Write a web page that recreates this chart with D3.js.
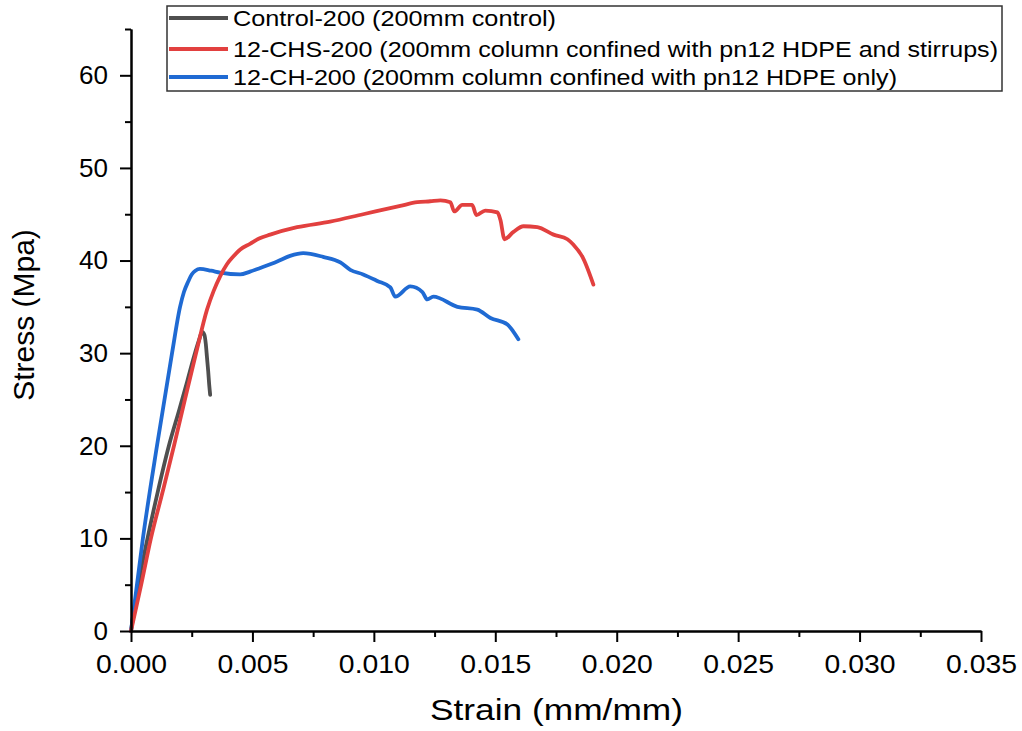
<!DOCTYPE html>
<html>
<head>
<meta charset="utf-8">
<script src="https://cdn.jsdelivr.net/npm/d3@7"></script>
<style>
  html, body { margin: 0; padding: 0; background: #fff; }
  svg { display: block; font-family: "Liberation Sans", Arial, sans-serif; }
</style>
</head>
<body>
<svg id="chart" width="1022" height="731"></svg>
<script>
// Stress–strain curves of 200 mm columns (strain in mm/mm, stress in MPa)
const controlStrain = [0, 0.0003, 0.00068, 0.0011, 0.00156, 0.002, 0.00232, 0.00258, 0.0028, 0.00293, 0.00302, 0.00308, 0.00313, 0.00318, 0.00322, 0.00326];
const controlStress = [0, 5, 10, 15, 20, 24, 27, 29.5, 31.4, 32.3, 32.0, 31.0, 29.5, 28.0, 26.6, 25.5];

const chsStrain = [0, 0.00042, 0.00082, 0.0013, 0.00177, 0.00222, 0.00268, 0.00313, 0.0034, 0.00367, 0.00395, 0.0042, 0.0045, 0.0049, 0.0053, 0.00573, 0.00684, 0.0082, 0.00956, 0.01109, 0.01179, 0.01232, 0.01274, 0.01315, 0.01331, 0.01364, 0.01405, 0.01422, 0.01459, 0.01509, 0.01521, 0.01538, 0.01575, 0.01616, 0.01673, 0.0174, 0.01797, 0.01822, 0.01859, 0.01904];
const chsStress = [0, 5, 10, 15, 20, 25, 30, 34.7, 36.7, 38.3, 39.6, 40.4, 41.2, 41.8, 42.4, 42.8, 43.6, 44.2, 45.0, 45.9, 46.3, 46.4, 46.5, 46.3, 45.3, 46.0, 46.0, 44.9, 45.4, 45.2, 44.4, 42.3, 43.1, 43.7, 43.6, 42.8, 42.3, 41.7, 40.4, 37.4];

const chStrain = [0, 0.00049, 0.00107, 0.00169, 0.00202, 0.00218, 0.00235, 0.0025, 0.00265, 0.00284, 0.0033, 0.00367, 0.00449, 0.0049, 0.00532, 0.00602, 0.00655, 0.00709, 0.00791, 0.00862, 0.00903, 0.00956, 0.01014, 0.01068, 0.01088, 0.0115, 0.012, 0.0122, 0.01245, 0.01344, 0.01426, 0.0148, 0.0155, 0.01575, 0.01595];
const chStress = [0, 10, 20, 30, 35, 36.6, 37.7, 38.5, 38.9, 39.1, 38.9, 38.7, 38.5, 38.8, 39.2, 39.9, 40.5, 40.8, 40.4, 39.8, 39.0, 38.5, 37.8, 37.1, 36.1, 37.2, 36.6, 35.8, 36.1, 35.0, 34.7, 33.8, 33.1, 32.3, 31.5];

const seriesNames = [
  "Control-200 (200mm control)",
  "12-CHS-200 (200mm column confined with pn12 HDPE and stirrups)",
  "12-CH-200 (200mm column confined with pn12 HDPE only)"
];
const seriesColors = ["#4f4f4f", "#e2403f", "#1f6ad3"];

const xMajorTicks = [0, 0.005, 0.01, 0.015, 0.02, 0.025, 0.03, 0.035];
const xMinorTicks = [0.0025, 0.0075, 0.0125, 0.0175, 0.0225, 0.0275, 0.0325];
const yMajorTicks = [0, 10, 20, 30, 40, 50, 60];
const yMinorTicks = [5, 15, 25, 35, 45, 55, 65];

const svg = d3.select("#chart");
const plotLeft = 131, plotRight = 981, plotTop = 29, plotBottom = 631;

const x = d3.scaleLinear().domain([0, 0.035]).range([plotLeft, plotRight]);
const y = d3.scaleLinear().domain([0, 65]).range([plotBottom, plotTop]);

// curves
const series = [
  { strain: controlStrain, stress: controlStress, color: seriesColors[0] },
  { strain: chStrain, stress: chStress, color: seriesColors[2] },
  { strain: chsStrain, stress: chsStress, color: seriesColors[1] }
];
const line = d3.line().x(d => x(d[0])).y(d => y(d[1])).curve(d3.curveMonotoneX);
series.forEach(s => {
  const pts = s.strain.map((v, i) => [v, s.stress[i]]);
  svg.append("path")
    .datum(pts)
    .attr("d", line)
    .attr("fill", "none")
    .attr("stroke", s.color)
    .attr("stroke-width", 3.8)
    .attr("stroke-linejoin", "round")
    .attr("stroke-linecap", "round");
});

// axes
function styleAxis(g) {
  g.selectAll(".domain").attr("stroke", "#000").attr("stroke-width", 2);
  g.selectAll(".tick line").attr("stroke", "#000").attr("stroke-width", 2);
  g.selectAll(".tick text").attr("fill", "#000").attr("font-size", 26)
    .attr("font-family", "'Liberation Sans', Arial, sans-serif");
}

const xMinor = svg.append("g").attr("transform", `translate(0,${plotBottom})`)
  .call(d3.axisBottom(x).tickValues(xMinorTicks).tickSize(6).tickSizeOuter(0).tickFormat(""));
styleAxis(xMinor);
const xAxis = svg.append("g").attr("transform", `translate(0,${plotBottom})`)
  .call(d3.axisBottom(x).tickValues(xMajorTicks).tickSize(11).tickSizeOuter(0).tickPadding(13).tickFormat(d3.format(".3f")));
styleAxis(xAxis);
xAxis.selectAll(".tick text").attr("textLength", 71).attr("lengthAdjust", "spacingAndGlyphs");

const yMinor = svg.append("g").attr("transform", `translate(${plotLeft},0)`)
  .call(d3.axisLeft(y).tickValues(yMinorTicks).tickSize(6).tickSizeOuter(0).tickFormat(""));
styleAxis(yMinor);
const yAxis = svg.append("g").attr("transform", `translate(${plotLeft},0)`)
  .call(d3.axisLeft(y).tickValues(yMajorTicks).tickSize(11).tickSizeOuter(0).tickPadding(12).tickFormat(d3.format("d")));
styleAxis(yAxis);

// axis titles
svg.append("text")
  .attr("x", 430).attr("y", 720)
  .attr("font-size", 30)
  .attr("textLength", 253).attr("lengthAdjust", "spacingAndGlyphs")
  .text("Strain (mm/mm)");

svg.append("text")
  .attr("transform", "translate(34,315) rotate(-90)")
  .attr("text-anchor", "middle")
  .attr("font-size", 30)
  .text("Stress (Mpa)");

// legend
const legend = svg.append("g");
legend.append("rect")
  .attr("x", 167).attr("y", 6).attr("width", 835).attr("height", 85)
  .attr("fill", "#fff").attr("stroke", "#333").attr("stroke-width", 1.5);
const legendRows = [
  { y: 18, len: 323 },
  { y: 49, len: 765 },
  { y: 77, len: 664 }
];
seriesNames.forEach((name, i) => {
  legend.append("line")
    .attr("x1", 169).attr("x2", 228)
    .attr("y1", legendRows[i].y).attr("y2", legendRows[i].y)
    .attr("stroke", seriesColors[i]).attr("stroke-width", 3.8);
  legend.append("text")
    .attr("x", 233).attr("y", legendRows[i].y + 8)
    .attr("font-size", 22)
    .attr("textLength", legendRows[i].len).attr("lengthAdjust", "spacingAndGlyphs")
    .text(name);
});
</script>
</body>
</html>
